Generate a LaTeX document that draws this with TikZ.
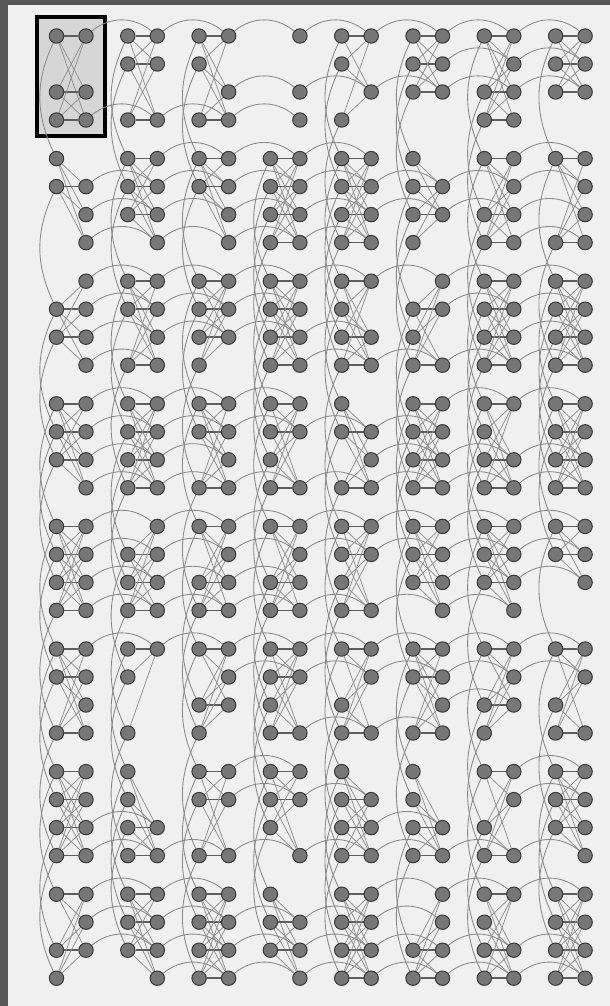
\documentclass[tikz,border=0pt]{standalone}
\pgfdeclarelayer{boxl}
\pgfdeclarelayer{edgel}
\pgfsetlayers{boxl,edgel,main}
\definecolor{bgc}{HTML}{F0F0F0}
\definecolor{darkc}{HTML}{585858}
\definecolor{boxc}{HTML}{D6D6D6}
\definecolor{nodefill}{HTML}{777777}
\definecolor{nodeedge}{HTML}{383838}
\definecolor{pairc}{HTML}{5E5E5E}
\definecolor{crossc}{HTML}{8E8E8E}
\definecolor{coupc}{HTML}{888888}
\begin{document}
\begin{tikzpicture}[x=1pt,y=-1pt,
  qubit/.style={circle,draw=nodeedge,fill=nodefill,line width=1pt,minimum size=14.4pt,inner sep=0pt},
  pairedge/.style={draw=pairc,line width=1.6pt},
  crossedge/.style={draw=crossc,line width=0.75pt},
  coupler/.style={draw=coupc,line width=0.85pt},
  hlbox/.style={draw=black,line width=3.5pt,fill=boxc,minimum width=68pt,minimum height=119pt,inner sep=0pt}]
\useasboundingbox (0,0) rectangle (610,1006);
\begin{pgfonlayer}{boxl}
\fill[bgc] (0,0) rectangle (610,1006);
\fill[darkc] (0,0) rectangle (8,1006);
\fill[darkc] (0,0) rectangle (610,5);
\node[hlbox] (hl) at (71,76.5) {};
\end{pgfonlayer}
% qubits: row/col/left indices/right indices (9 = none)
\foreach \rr/\cc/\Ls/\Rs in {
 0/0/{0,2,3}/{0,2,3}, 0/1/{0,1,3}/{0,1,3}, 0/2/{0,1,3}/{0,2,3}, 0/3/{9}/{0,2,3},
 0/4/{0,1,3}/{0,2}, 0/5/{0,1,2}/{0,1,2}, 0/6/{0,2,3}/{0,1,2,3}, 0/7/{0,1,2}/{0,1,2},
 1/0/{0,1}/{1,2,3}, 1/1/{0,1,2}/{0,1,2,3}, 1/2/{0,1}/{0,1,2,3}, 1/3/{0,1,2,3}/{0,1,2,3},
 1/4/{0,1,2,3}/{0,1,2,3}, 1/5/{0,1,2,3}/{1,2}, 1/6/{0,2,3}/{0,1,2,3}, 1/7/{0,3}/{0,1,2,3},
 2/0/{1,2}/{0,1,2,3}, 2/1/{0,1,3}/{0,1,2,3}, 2/2/{0,1,2,3}/{0,1,2}, 2/3/{0,1,2,3}/{0,1,2,3},
 2/4/{0,1,2,3}/{0,2,3}, 2/5/{1,2,3}/{0,1,3}, 2/6/{0,1,2,3}/{0,1,2,3}, 2/7/{0,1,2,3}/{0,1,2,3},
 3/0/{0,1,2}/{0,1,2,3}, 3/1/{0,1,2,3}/{0,1,2,3}, 3/2/{0,1,3}/{0,1,2,3}, 3/3/{0,1,2,3}/{0,1,3},
 3/4/{0,1,3}/{1,2,3}, 3/5/{0,1,2,3}/{0,1,2,3}, 3/6/{0,1,2,3}/{0,2,3}, 3/7/{0,1,2,3}/{0,1,2,3},
 4/0/{0,1,2,3}/{0,1,2,3}, 4/1/{1,2,3}/{0,1,2,3}, 4/2/{0,2,3}/{0,1,2,3}, 4/3/{0,2,3}/{0,1,2,3},
 4/4/{0,1,2,3}/{0,1,3}, 4/5/{0,1,2}/{0,1,2,3}, 4/6/{0,1,2}/{0,1,2,3}, 4/7/{0,1}/{0,1,2},
 5/0/{0,1,3}/{0,1,2,3}, 5/1/{0,1,3}/{0}, 5/2/{0,2,3}/{0,1,2}, 5/3/{0,1,2,3}/{0,1,3},
 5/4/{0,2,3}/{0,1,3}, 5/5/{0,1,3}/{0,1,2,3}, 5/6/{0,2,3}/{0,1,2}, 5/7/{0,2,3}/{0,1,3},
 6/0/{0,1,2,3}/{0,1,2,3}, 6/1/{0,1,2,3}/{2,3}, 6/2/{0,1,3}/{0,1,3}, 6/3/{0,1,2}/{0,1,3},
 6/4/{0,1,2,3}/{1,2,3}, 6/5/{0,1,2,3}/{2,3}, 6/6/{0,2,3}/{0,1,3}, 6/7/{0,1,2}/{0,1,2,3},
 7/0/{0,2,3}/{0,1,2}, 7/1/{0,1,2}/{0,1,2,3}, 7/2/{0,1,2,3}/{0,1,2,3}, 7/3/{0,1,2}/{1,2,3},
 7/4/{0,1,2,3}/{0,1,2,3}, 7/5/{2,3}/{0,1,2,3}, 7/6/{0,1,2,3}/{0,2,3}, 7/7/{0,1,2,3}/{0,1,2,3}}{
  \foreach \i in \Ls {\ifnum\i<4 \node[qubit] (n-\rr-\cc-L-\i) at ({56.5+71.3*\cc},{36+122.6*\rr+28*\i}) {};\fi}
  \foreach \i in \Rs {\ifnum\i<4 \node[qubit] (n-\rr-\cc-R-\i) at ({86+71.3*\cc},{36+122.6*\rr+28*\i}) {};\fi}
}
\begin{pgfonlayer}{edgel}
% couplers between cells in a row (right column qubits)
\foreach \rr in {0,...,7}{\foreach \cc [evaluate=\cc as \cn using {int(\cc+1)}] in {0,...,6}{\foreach \i in {0,...,3}{%
  \ifcsname pgf@sh@ns@n-\rr-\cc-R-\i\endcsname\ifcsname pgf@sh@ns@n-\rr-\cn-R-\i\endcsname
    \draw[coupler] (n-\rr-\cc-R-\i) to[bend left=40] (n-\rr-\cn-R-\i);
  \fi\fi}}}
% couplers between cells in a column (left column qubits)
\foreach \rr [evaluate=\rr as \rn using {int(\rr+1)}] in {0,...,6}{\foreach \cc in {0,...,7}{\foreach \i in {0,...,3}{%
  \ifcsname pgf@sh@ns@n-\rr-\cc-L-\i\endcsname\ifcsname pgf@sh@ns@n-\rn-\cc-L-\i\endcsname
    \draw[coupler] (n-\rr-\cc-L-\i) to[bend right=25] (n-\rn-\cc-L-\i);
  \fi\fi}}}
% couplers inside each cell
\foreach \rr in {0,...,7}{\foreach \cc in {0,...,7}{\foreach \i in {0,...,3}{\foreach \j in {0,...,3}{%
  \ifcsname pgf@sh@ns@n-\rr-\cc-L-\i\endcsname\ifcsname pgf@sh@ns@n-\rr-\cc-R-\j\endcsname
    \ifnum\i=\j\relax
      \draw[pairedge] (n-\rr-\cc-L-\i) -- (n-\rr-\cc-R-\j);
    \else
      \draw[crossedge] (n-\rr-\cc-L-\i) -- (n-\rr-\cc-R-\j);
    \fi
  \fi\fi}}}}
\end{pgfonlayer}
\end{tikzpicture}
\end{document}
